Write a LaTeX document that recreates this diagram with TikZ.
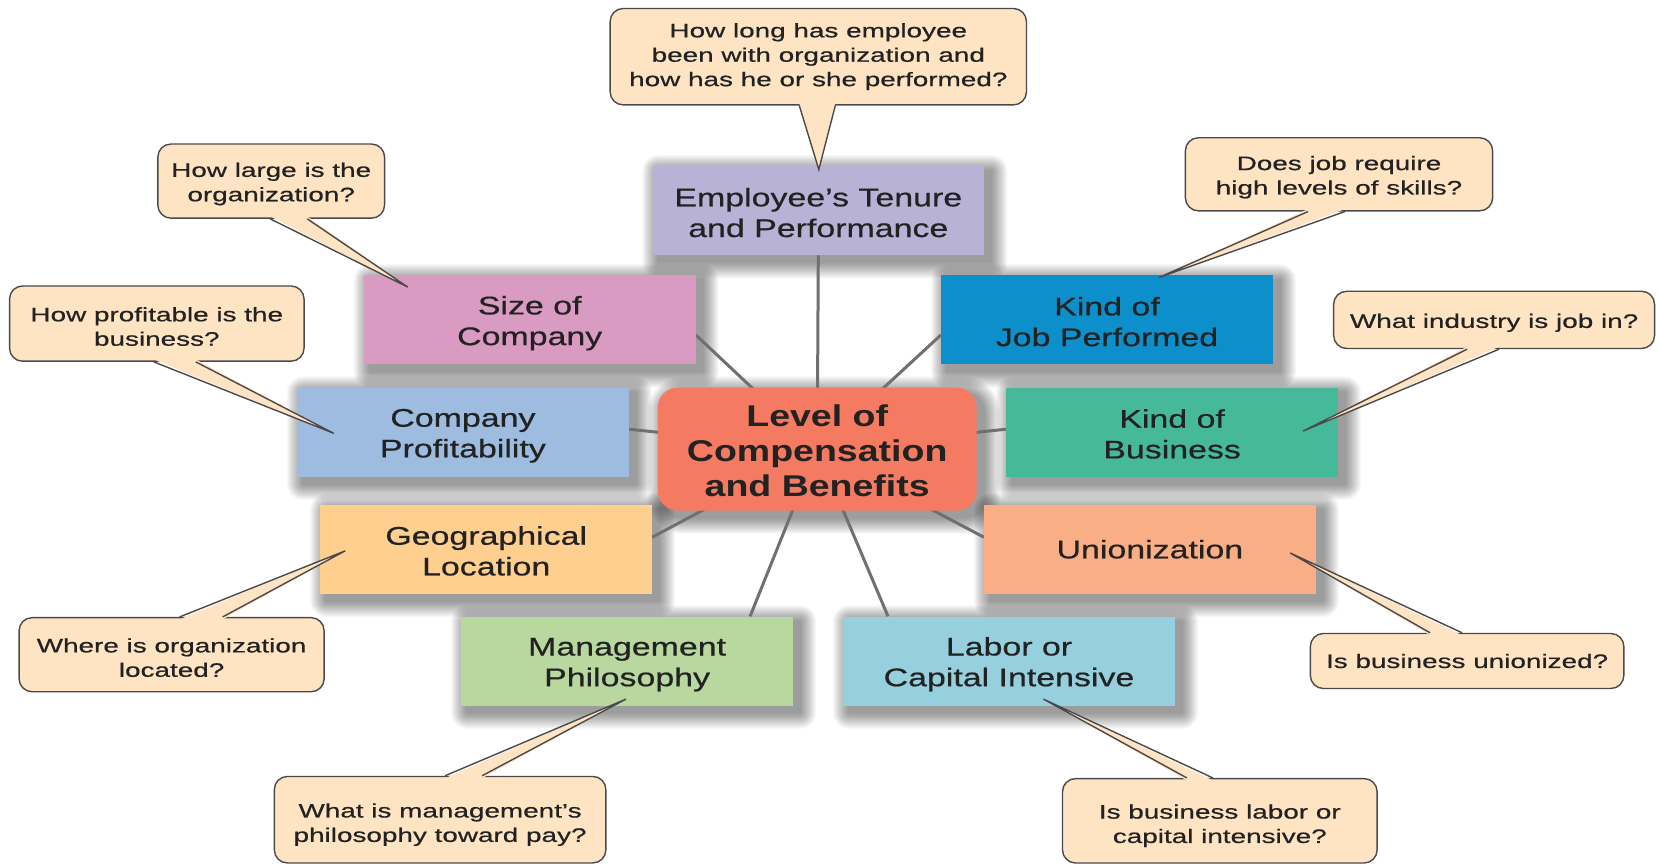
\documentclass[tikz,border=0pt]{standalone}
\usepackage{fontspec}
\setmainfont{Liberation Sans}
\newfontfamily\boxfont{Liberation Sans}[FakeStretch=1.33,FakeBold=0.6]
\newfontfamily\askfont{Liberation Sans}[FakeStretch=1.43,FakeBold=0.6]
\newfontfamily\hubfont{Liberation Sans}[FakeStretch=1.25]
\usetikzlibrary{calc,backgrounds}

\definecolor{ink}{HTML}{222222}
\definecolor{hubc}{HTML}{F47A62}
\definecolor{tenurec}{HTML}{B8B2D6}
\definecolor{sizec}{HTML}{D99BC1}
\definecolor{jobc}{HTML}{0C8FCB}
\definecolor{profitc}{HTML}{9DBCE0}
\definecolor{bizc}{HTML}{46B99B}
\definecolor{geoc}{HTML}{FECF8E}
\definecolor{unionc}{HTML}{F9AE86}
\definecolor{mgmtc}{HTML}{B8D8A0}
\definecolor{laborc}{HTML}{96D0DE}
\definecolor{askfill}{HTML}{FFE4C4}
\definecolor{askline}{HTML}{4A4A4A}
\definecolor{connc}{HTML}{707070}

% invisible struts that set the top of the first line of a label
\newcommand\boxtop{\rule{0pt}{25pt}}
\newcommand\boxlow{\rule{0pt}{22pt}}
\newcommand\asktop{\rule{0pt}{20pt}}
\newcommand\asktall{\rule{0pt}{24pt}}
\newcommand\hubtop{\rule{0pt}{26pt}}

% soft shadow below and right of a node: name, corner radius
\newcommand\boxshadow[2]{%
  \foreach \r in {1,...,16}{%
    \fill[black, opacity=0.026, rounded corners={#2+\r}]
      ([xshift={6-\r}, yshift={-7-\r}]#1.south west) rectangle
      ([xshift={7+\r}, yshift={-5+\r}]#1.north east);}}

% tail of a speech bubble: node, left and right offsets of its base, tip
\newcommand\tailbelow[4]{%
  \fill[askfill] ([xshift=#2pt,yshift=2.5pt]#1.south) -- (#4) -- ([xshift=#3pt,yshift=2.5pt]#1.south) -- cycle;
  \draw[askedge] ([xshift=#2pt]#1.south) -- (#4) -- ([xshift=#3pt]#1.south);}
\newcommand\tailabove[4]{%
  \fill[askfill] ([xshift=#2pt,yshift=-2.5pt]#1.north) -- (#4) -- ([xshift=#3pt,yshift=-2.5pt]#1.north) -- cycle;
  \draw[askedge] ([xshift=#2pt]#1.north) -- (#4) -- ([xshift=#3pt]#1.north);}

\begin{document}
\begin{tikzpicture}[x=1pt,y=1pt,
  factor/.style={draw=none, minimum width=331.6pt, minimum height=89pt,
      inner sep=0pt, align=center, text=ink,
      font=\boxfont\fontsize{25.5}{30.7}\selectfont},
  hub/.style={draw=none, fill=hubc, rounded corners=20pt, minimum width=318.9pt,
      minimum height=122.9pt, inner sep=0pt, align=center, text=ink,
      font=\hubfont\bfseries\fontsize{30}{35}\selectfont},
  ask/.style={draw=askline, line width=1.4pt, fill=askfill, rounded corners=13pt,
      inner sep=0pt, align=center, text=ink,
      font=\askfont\fontsize{19.5}{24.4}\selectfont},
  askedge/.style={draw=askline, line width=1.4pt, line join=miter},
  conn/.style={draw=connc, line width=3pt},
]
\useasboundingbox (0,0) rectangle (1661,865);

% factor boxes
\node[factor, fill=tenurec] (tenure) at (818.3,654.2) {\boxlow Employee’s Tenure\\and Performance};
\node[factor, fill=sizec]   (size)   at (529.7,545.1) {\boxtop Size of\\Company};
\node[factor, fill=jobc]    (job)    at (1107.0,545.1) {\boxlow Kind of\\Job Performed};
\node[factor, fill=profitc] (profit) at (462.9,432.8) {\boxtop Company\\Profitability};
\node[factor, fill=bizc]    (biz)    at (1172.1,432.8) {\boxlow Kind of\\Business};
\node[factor, fill=geoc]    (geo)    at (486.2,315.8) {\boxlow Geographical\\Location};
\node[factor, fill=unionc]  (union)  at (1149.9,315.8) {Unionization};
\node[factor, fill=mgmtc]   (mgmt)   at (627.1,204.0) {\boxtop Management\\Philosophy};
\node[factor, fill=laborc]  (labor)  at (1009.0,204.0) {\boxtop Labor or\\Capital Intensive};

% central topic
\node[hub] (hub) at (817.2,415.9) {\hubtop Level of\\Compensation\\and Benefits};

% white ground, shadows and spokes behind the boxes
\begin{scope}[on background layer]
  \fill[white] (0,0) rectangle (1661,865);
  \foreach \n in {tenure,size,job,profit,biz,geo,union,mgmt,labor}{\boxshadow{\n}{0}}
  \boxshadow{hub}{20}
  \draw[conn] (hub.center) -- (tenure.south);
  \draw[conn] (hub.center) -- ([yshift=-15pt]size.east);
  \draw[conn] (hub.center) -- ([yshift=-15pt]job.west);
  \draw[conn] (hub.center) -- ([yshift=3pt]profit.east);
  \draw[conn] (hub.center) -- ([yshift=3pt]biz.west);
  \draw[conn] (hub.center) -- ([yshift=12pt]geo.east);
  \draw[conn] (hub.center) -- ([yshift=12pt]union.west);
  \draw[conn] (hub.center) -- ([xshift=123pt]mgmt.north);
  \draw[conn] (hub.center) -- ([xshift=-121pt]labor.north);
\end{scope}

% question bubbles
\node[ask, minimum width=416.3pt, minimum height=96.4pt] (q0) at (818.3,808.3)
  {How long has employee\\been with organization and\\how has he or she performed?};
\node[ask, minimum width=226.7pt, minimum height=74.1pt] (q1) at (271.2,683.9)
  {\asktop How large is the\\organization?};
\node[ask, minimum width=294.5pt, minimum height=75.2pt] (q2) at (156.8,541.4)
  {\asktop How profitable is the\\business?};
\node[ask, minimum width=305pt, minimum height=74.1pt] (q3) at (171.6,210.3)
  {\asktop Where is organization\\located?};
\node[ask, minimum width=331.5pt, minimum height=86.5pt] (q4) at (440.1,45.3)
  {\asktall What is management’s\\philosophy toward pay?};
\node[ask, minimum width=314.6pt, minimum height=84.4pt] (q5) at (1219.8,44.2)
  {\asktall Is business labor or\\capital intensive?};
\node[ask, minimum width=313.5pt, minimum height=55pt] (q6) at (1467.1,204.0)
  {Is business unionized?};
\node[ask, minimum width=320.9pt, minimum height=57.2pt] (q7) at (1494.1,545.1)
  {\asktop What industry is job in?};
\node[ask, minimum width=307.2pt, minimum height=73.1pt] (q8) at (1339.0,690.7)
  {\asktop Does job require\\high levels of skills?};

% tips of the bubble tails
\coordinate (t0) at (818.8,695.5);
\coordinate (t1) at (407.8,577.9);
\coordinate (t2) at (333.7,431.7);
\coordinate (t3) at (345.3,314.2);
\coordinate (t4) at (626.0,165.9);
\coordinate (t5) at (1043.4,165.9);
\coordinate (t6) at (1290.2,312.0);
\coordinate (t7) at (1302.9,433.9);
\coordinate (t8) at (1158.9,587.5);

\tailbelow{q0}{-19}{17}{t0}
\tailbelow{q1}{-1}{36}{t1}
\tailbelow{q2}{-3}{39}{t2}
\tailabove{q3}{8}{51}{t3}
\tailabove{q4}{5}{42}{t4}
\tailabove{q5}{-33}{-7}{t5}
\tailabove{q6}{-37}{-5}{t6}
\tailbelow{q7}{-27}{5}{t7}
\tailbelow{q8}{-31}{6}{t8}
\end{tikzpicture}
\end{document}
